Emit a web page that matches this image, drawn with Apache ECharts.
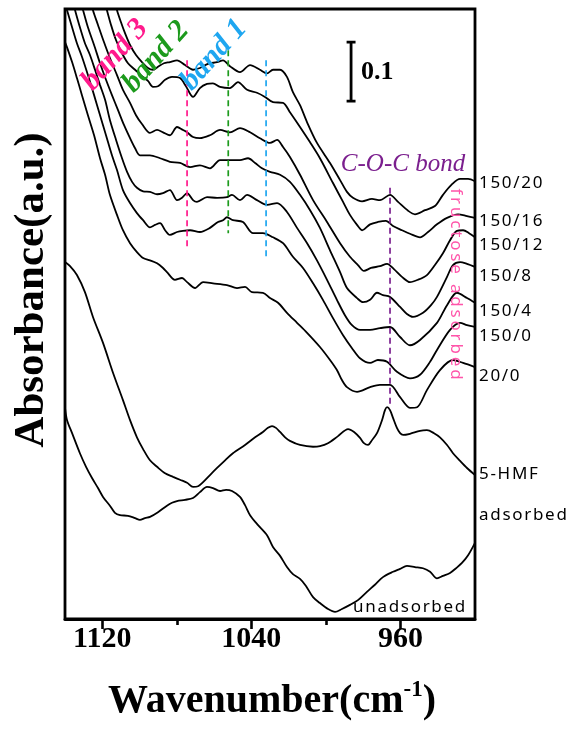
<!DOCTYPE html>
<html>
<head>
<meta charset="utf-8">
<title>FTIR spectra</title>
<script src="https://cdn.jsdelivr.net/npm/echarts@6/dist/echarts.min.js"></script>
<style>
  html, body { margin: 0; padding: 0; background: #fff; }
  #chart { width: 576px; height: 729px; }
</style>
</head>
<body>
<div id="chart"></div>
<script>
// Spectra: [wavenumber (cm-1), absorbance (a.u., stacked with offsets)]
const s150_20 = [[1114.2,1.058],[1112.1,1.032],[1110.0,1.012],[1107.8,0.993],[1105.1,0.973],[1101.9,0.956],[1098.7,0.944],[1095.5,0.934],[1092.8,0.931],[1090.1,0.936],[1086.9,0.942],[1083.7,0.944],[1079.9,0.947],[1075.6,0.939],[1071.3,0.931],[1067.6,0.934],[1063.3,0.941],[1058.4,0.944],[1055.2,0.947],[1051.5,0.937],[1046.1,0.927],[1040.7,0.939],[1035.4,0.931],[1031.6,0.925],[1028.4,0.931],[1024.6,0.931],[1020.9,0.919],[1017.7,0.893],[1013.9,0.871],[1010.1,0.842],[1004.8,0.807],[997.8,0.773],[992.4,0.744],[988.7,0.724],[985.5,0.714],[980.6,0.708],[975.3,0.712],[971.0,0.710],[965.6,0.719],[961.3,0.707],[955.9,0.692],[952.2,0.686],[946.8,0.693],[941.5,0.700],[937.2,0.719],[932.3,0.737],[928.0,0.746],[923.7,0.746],[920.0,0.742]];
const s150_16 = [[1119.6,1.058],[1117.5,1.032],[1115.3,1.007],[1112.6,0.981],[1109.4,0.959],[1106.2,0.942],[1102.4,0.931],[1098.7,0.920],[1095.5,0.912],[1092.8,0.902],[1090.1,0.903],[1086.3,0.914],[1082.6,0.919],[1078.3,0.917],[1075.1,0.903],[1071.3,0.885],[1067.6,0.900],[1063.8,0.907],[1060.6,0.908],[1056.8,0.902],[1051.5,0.900],[1047.2,0.910],[1042.3,0.897],[1037.0,0.892],[1032.7,0.885],[1028.4,0.876],[1023.0,0.875],[1019.3,0.859],[1013.9,0.834],[1008.5,0.808],[1003.2,0.781],[996.2,0.739],[990.8,0.707],[987.1,0.685],[983.3,0.668],[980.6,0.659],[976.3,0.669],[972.1,0.673],[967.8,0.675],[964.0,0.666],[959.2,0.659],[954.9,0.653],[949.5,0.647],[945.2,0.656],[940.4,0.669],[935.0,0.680],[929.1,0.686],[924.3,0.683],[920.0,0.680]];
const s150_12 = [[1127.1,1.058],[1125.0,1.032],[1122.3,1.007],[1119.1,0.978],[1115.9,0.951],[1112.1,0.922],[1108.9,0.897],[1105.1,0.875],[1101.9,0.854],[1098.7,0.839],[1094.4,0.824],[1090.6,0.829],[1087.4,0.825],[1083.7,0.820],[1079.9,0.834],[1076.7,0.829],[1074.5,0.825],[1071.3,0.817],[1067.6,0.815],[1062.2,0.820],[1056.8,0.829],[1051.5,0.825],[1046.1,0.832],[1040.7,0.825],[1035.4,0.815],[1030.0,0.807],[1026.2,0.812],[1023.0,0.800],[1019.3,0.783],[1013.9,0.753],[1006.9,0.710],[999.4,0.673],[992.4,0.637],[987.1,0.614],[982.8,0.600],[979.6,0.590],[975.8,0.595],[971.0,0.598],[967.2,0.602],[963.5,0.593],[959.2,0.580],[954.9,0.571],[950.6,0.575],[945.8,0.583],[941.5,0.600],[937.2,0.620],[933.4,0.642],[929.7,0.658],[926.4,0.659],[923.2,0.654],[920.0,0.647]];
const s150_8 = [[1132.5,1.058],[1130.3,1.032],[1127.7,1.003],[1124.4,0.973],[1121.2,0.942],[1118.0,0.914],[1114.8,0.888],[1111.6,0.863],[1108.3,0.837],[1105.1,0.815],[1102.4,0.798],[1099.8,0.786],[1094.4,0.786],[1089.0,0.781],[1083.7,0.775],[1078.3,0.773],[1072.9,0.766],[1067.6,0.769],[1062.2,0.764],[1056.8,0.778],[1051.5,0.778],[1046.1,0.778],[1041.8,0.781],[1038.0,0.773],[1034.3,0.764],[1030.0,0.758],[1024.6,0.753],[1019.3,0.741],[1013.9,0.719],[1008.5,0.693],[1003.2,0.663],[997.8,0.625],[992.4,0.588],[988.7,0.561],[983.3,0.544],[980.1,0.537],[976.3,0.541],[972.6,0.553],[969.4,0.549],[965.6,0.546],[960.2,0.529],[956.5,0.517],[953.3,0.512],[947.9,0.519],[943.6,0.532],[940.4,0.546],[935.0,0.580],[931.8,0.600],[928.0,0.605],[924.3,0.602],[920.0,0.597]];
const s150_4 = [[1136.8,1.058],[1134.6,1.032],[1132.0,1.003],[1129.3,0.976],[1126.6,0.956],[1123.9,0.931],[1121.2,0.905],[1118.5,0.880],[1115.9,0.846],[1112.6,0.812],[1109.4,0.781],[1106.7,0.758],[1104.0,0.741],[1101.4,0.731],[1098.1,0.725],[1094.4,0.724],[1090.6,0.720],[1087.4,0.722],[1083.7,0.727],[1079.9,0.710],[1077.2,0.714],[1074.5,0.722],[1071.3,0.710],[1069.2,0.707],[1063.8,0.715],[1058.4,0.714],[1053.1,0.715],[1050.4,0.719],[1046.1,0.710],[1042.3,0.719],[1037.0,0.710],[1031.6,0.702],[1026.2,0.705],[1020.9,0.690],[1015.5,0.663],[1010.1,0.637],[1004.8,0.608],[999.4,0.575],[994.1,0.541],[989.8,0.515],[986.0,0.498],[981.7,0.490],[976.3,0.490],[971.0,0.493],[965.6,0.495],[960.2,0.478],[954.9,0.464],[949.5,0.473],[940.4,0.502],[935.0,0.532],[929.7,0.553],[924.3,0.544],[920.0,0.536]];
const s150_0 = [[1140.0,1.044],[1138.9,1.032],[1136.2,1.003],[1133.6,0.976],[1130.9,0.953],[1127.7,0.922],[1124.4,0.888],[1121.2,0.854],[1118.0,0.820],[1114.8,0.786],[1112.1,0.761],[1108.9,0.727],[1105.1,0.705],[1101.4,0.688],[1098.1,0.676],[1094.4,0.664],[1091.7,0.668],[1089.0,0.671],[1086.3,0.659],[1083.7,0.651],[1079.9,0.656],[1076.7,0.658],[1072.9,0.659],[1067.6,0.656],[1062.2,0.663],[1057.9,0.673],[1055.2,0.676],[1053.1,0.681],[1049.9,0.676],[1044.5,0.673],[1039.1,0.654],[1033.8,0.654],[1028.4,0.647],[1023.0,0.637],[1017.7,0.614],[1012.3,0.595],[1006.9,0.569],[1001.6,0.541],[996.2,0.510],[990.8,0.481],[986.0,0.459],[981.7,0.442],[976.3,0.434],[972.1,0.439],[967.2,0.436],[961.9,0.419],[954.9,0.408],[949.5,0.414],[944.1,0.436],[940.4,0.456],[933.4,0.490],[928.0,0.502],[924.3,0.498],[920.0,0.495]];
const s20_0 = [[1140.0,0.978],[1138.9,0.969],[1136.2,0.944],[1133.6,0.917],[1130.9,0.888],[1127.7,0.854],[1124.4,0.820],[1121.2,0.781],[1118.5,0.753],[1115.9,0.719],[1112.1,0.685],[1108.9,0.659],[1105.1,0.637],[1101.4,0.622],[1098.1,0.612],[1094.4,0.608],[1090.6,0.603],[1087.4,0.595],[1085.3,0.588],[1081.0,0.575],[1077.2,0.578],[1074.5,0.571],[1070.2,0.561],[1065.9,0.571],[1060.6,0.569],[1053.1,0.566],[1047.7,0.561],[1043.4,0.563],[1039.7,0.554],[1033.8,0.553],[1030.0,0.544],[1025.7,0.536],[1020.9,0.519],[1015.5,0.502],[1010.1,0.485],[1003.2,0.461],[997.8,0.439],[994.1,0.422],[991.4,0.405],[988.7,0.393],[983.3,0.385],[976.3,0.393],[971.0,0.397],[965.6,0.397],[960.2,0.376],[954.9,0.358],[951.1,0.359],[945.8,0.388],[938.8,0.422],[931.8,0.439],[926.4,0.434],[920.0,0.427]];
const hmfAdsorbed = [[1140.0,0.605],[1137.3,0.598],[1133.6,0.583],[1129.3,0.554],[1125.0,0.512],[1119.6,0.468],[1114.2,0.417],[1108.9,0.371],[1105.1,0.337],[1101.4,0.308],[1098.1,0.288],[1094.4,0.269],[1090.6,0.258],[1086.3,0.247],[1082.0,0.241],[1078.3,0.236],[1074.5,0.231],[1071.3,0.224],[1068.6,0.225],[1065.9,0.232],[1062.2,0.244],[1058.4,0.256],[1054.1,0.269],[1049.9,0.281],[1043.4,0.295],[1038.0,0.308],[1033.8,0.317],[1031.1,0.324],[1028.9,0.327],[1026.8,0.324],[1024.6,0.317],[1021.9,0.308],[1019.3,0.302],[1013.9,0.295],[1006.9,0.292],[1003.2,0.293],[998.9,0.298],[993.5,0.310],[988.1,0.322],[984.9,0.317],[981.7,0.307],[979.6,0.298],[977.4,0.295],[975.3,0.303],[972.6,0.315],[969.9,0.337],[968.3,0.354],[967.2,0.359],[965.6,0.354],[964.0,0.341],[961.9,0.324],[960.2,0.315],[958.6,0.312],[954.9,0.314],[949.5,0.319],[945.8,0.320],[942.0,0.315],[938.8,0.308],[935.0,0.295],[931.8,0.281],[928.0,0.268],[924.3,0.256],[920.0,0.244]];
const unadsorbed = [[1140.0,0.358],[1138.9,0.337],[1136.2,0.315],[1132.0,0.281],[1128.7,0.258],[1125.5,0.239],[1122.3,0.222],[1119.6,0.207],[1115.9,0.192],[1113.2,0.180],[1110.5,0.176],[1106.2,0.175],[1102.4,0.171],[1099.8,0.168],[1097.1,0.171],[1094.4,0.173],[1090.1,0.181],[1085.3,0.192],[1082.6,0.197],[1079.9,0.200],[1075.6,0.202],[1071.3,0.205],[1067.6,0.215],[1063.8,0.224],[1060.6,0.222],[1056.8,0.217],[1053.6,0.219],[1050.4,0.217],[1046.1,0.207],[1043.4,0.193],[1040.7,0.176],[1036.4,0.159],[1031.6,0.142],[1028.4,0.122],[1024.6,0.107],[1020.9,0.088],[1017.7,0.076],[1013.9,0.068],[1010.7,0.056],[1006.9,0.037],[1003.2,0.027],[998.9,0.017],[995.1,0.012],[991.4,0.017],[987.1,0.024],[982.8,0.032],[978.0,0.046],[973.7,0.058],[969.4,0.071],[964.0,0.080],[960.2,0.085],[956.5,0.090],[952.2,0.088],[947.9,0.086],[944.1,0.080],[940.4,0.069],[937.2,0.073],[933.4,0.078],[930.2,0.086],[927.0,0.095],[923.7,0.108],[920.0,0.129]];

// Band positions (cm-1) and the absorbance span of each dashed marker
const band3 = [[1074.5,0.947],[1074.5,0.625]];
const band2 = [[1052.4,0.964],[1052.4,0.654]];
const band1 = [[1032.1,0.947],[1032.1,0.614]];
const cocBond = [[965.6,0.731],[965.6,0.363]];
// Scale bar: 0.1 absorbance units
const scaleBar = [[988.9,0.978],[984.1,0.978],[986.5,0.978],[986.5,0.878],[988.9,0.878],[984.1,0.878]];

const majorTicks = [1120, 1040, 960];
const minorTicks = [1080, 1000];

const spectra = [s150_20, s150_16, s150_12, s150_8, s150_4, s150_0, s20_0, hmfAdsorbed, unadsorbed];

const chart = echarts.init(document.getElementById('chart'), null, { renderer: 'canvas' });

const serif = '"Liberation Serif", "Times New Roman", serif';
const sans = '"Noto Sans", "Open Sans", sans-serif';
const thin = s => s.split('').join('\u2009');
const hair = s => s.split('').join('\u200A');

function dashed(data, color) {
  return {
    type: 'line', data, showSymbol: false, silent: true, animation: false,
    lineStyle: { color, width: 1.7, type: [6, 4] }, z: 3
  };
}

const series = spectra.map(d => ({
  type: 'line', data: d, showSymbol: false, silent: true, animation: false,
  smooth: 0.3, clip: true,
  lineStyle: { color: '#000', width: 1.8 }, z: 2
}));
series.push(dashed(band3, '#ff1a8c'));
series.push(dashed(band2, '#1c9a1c'));
series.push(dashed(band1, '#1ea6f0'));
series.push(dashed(cocBond, '#7b1f8e'));
series.push({
  type: 'line', data: scaleBar, showSymbol: false, silent: true, animation: false,
  lineStyle: { color: '#000', width: 2.8 }, z: 4
});

function txt(x, y, text, font, fill, align, rotation) {
  return {
    type: 'text', x, y, rotation: rotation || 0, silent: true, z: 10,
    style: {
      text, font, fill: fill || '#000',
      align: align || 'left', textAlign: align || 'left',
      verticalAlign: 'middle', textVerticalAlign: 'middle'
    }
  };
}

const rightLabels = [
  ['150/20', 183], ['150/16', 221], ['150/12', 245], ['150/8', 276],
  ['150/4', 311], ['150/0', 336], ['20/0', 376], ['5-HMF', 474], ['adsorbed', 515]
];

const bandRot = 0.84;
const graphics = [
  txt(115, 55, 'band 3', 'italic bold 30px ' + serif, '#ff1a8c', 'center', bandRot),
  txt(156, 57, 'band 2', 'italic bold 30px ' + serif, '#1c9a1c', 'center', bandRot),
  txt(214, 55, 'band 1', 'italic bold 30px ' + serif, '#1ea6f0', 'center', bandRot),
  txt(403, 164, 'C-O-C bond', 'italic 25px ' + serif, '#7b1f8e', 'center'),
  txt(361, 72, '0.1', 'bold 26px ' + serif, '#000', 'left'),
  txt(456, 284, thin('fructose adsorbed'), '17px ' + sans, '#ff55aa', 'center', -Math.PI / 2),
  txt(353, 607, hair('unadsorbed'), '17px ' + sans, '#000', 'left'),
  txt(32, 290, 'Absorbance(a.u.)', 'bold 43px ' + serif, '#000', 'center', Math.PI / 2),
  {
    type: 'text', x: 272, y: 702, silent: true, z: 10,
    style: {
      text: '{a|Wavenumber(cm}{s|-1}{a|)}',
      align: 'center', textAlign: 'center', verticalAlign: 'middle', textVerticalAlign: 'middle',
      rich: {
        a: { fontFamily: serif, fontWeight: 'bold', fontSize: 40, fill: '#000', lineHeight: 46 },
        s: { fontFamily: serif, fontWeight: 'bold', fontSize: 23, fill: '#000', verticalAlign: 'top', lineHeight: 46 }
      }
    }
  }
];
rightLabels.forEach(([t, y]) => graphics.push(txt(479, y, hair(t), '17px ' + sans, '#000', 'left')));

chart.setOption({
  animation: false,
  backgroundColor: '#fff',
  grid: { left: 65, right: 101, top: 9, bottom: 110, show: true, borderColor: '#000', borderWidth: 2.8, containLabel: false },
  xAxis: [
    {
      type: 'value', inverse: true, min: 920, max: 1140, position: 'bottom',
      axisLine: { show: true, lineStyle: { color: '#000', width: 2.8 } },
      axisTick: { show: true, customValues: majorTicks, length: 10, lineStyle: { color: '#000', width: 2.6 } },
      axisLabel: {
        show: true, customValues: majorTicks, margin: 5, color: '#000',
        fontFamily: serif, fontWeight: 'bold', fontSize: 30,
        formatter: v => String(v)
      },
      splitLine: { show: false }
    },
    {
      type: 'value', inverse: true, min: 920, max: 1140, position: 'bottom',
      axisLine: { show: false },
      axisTick: { show: true, customValues: minorTicks, length: 6, lineStyle: { color: '#000', width: 2.6 } },
      axisLabel: { show: false },
      splitLine: { show: false }
    }
  ],
  yAxis: {
    type: 'value', min: 0, max: 1.034,
    axisLine: { show: false }, axisTick: { show: false }, axisLabel: { show: false }, splitLine: { show: false }
  },
  series,
  graphic: graphics
});
</script>
</body>
</html>
